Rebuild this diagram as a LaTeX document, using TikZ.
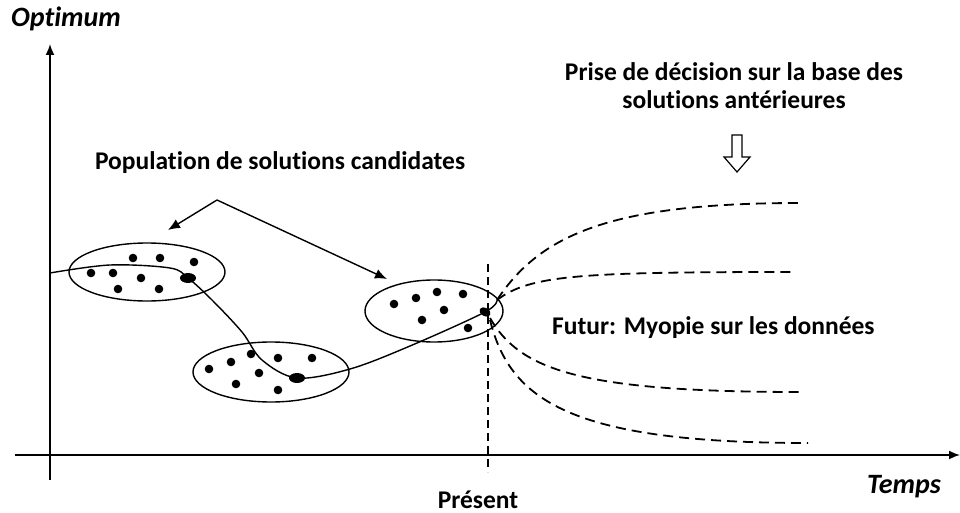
\documentclass[tikz,border=0pt]{standalone}
\usepackage{fontspec}
\setmainfont[Ligatures={NoCommon}]{Carlito}
\usetikzlibrary{arrows.meta}
\begin{document}
\begin{tikzpicture}[x=1pt,y=-1pt,
  lbl/.style={font=\fontsize{25.5}{28}\selectfont\bfseries, inner sep=0pt, align=center},
  axlbl/.style={font=\bfseries\itshape\fontsize{28}{30}\selectfont, inner sep=0pt},
  axis/.style={line width=1.7pt, -{Latex[length=11pt,width=9pt]}},
  grp/.style={draw, line width=1.4pt},
  pointer/.style={line width=1.4pt, -{Latex[length=12pt,width=10pt]}},
  fut/.style={line width=1.8pt, dash pattern=on 10pt off 6pt},
  traj/.style={line width=1.4pt}
]
\useasboundingbox (0,0) rectangle (960,513);
% axes
\coordinate (ybot) at (50,480);
\coordinate (ytop) at (50,44);
\coordinate (xl) at (15,455);
\coordinate (xr) at (960,455);
\draw[axis] (ybot) -- (ytop);
\draw[axis] (xl) -- (xr);
\node[axlbl, anchor=base west] (opt) at (11,27) {Optimum};
\node[axlbl, anchor=base west] (temps) at (867,493) {Temps};
\node[lbl, anchor=base] (present) at (478,508) {Présent};
% present line
\coordinate (pt) at (488,264);
\coordinate (pb) at (488,472);
\draw[line width=1.6pt, dash pattern=on 8pt off 5pt] (pt) -- (pb);
% ellipses
\draw[grp] (147,272) ellipse [x radius=78, y radius=29];
\draw[grp] (271,372) ellipse [x radius=78, y radius=30];
\draw[grp] (434,311) ellipse [x radius=69, y radius=31];
\coordinate (e1) at (168,230);
\coordinate (e3) at (387,279);
% dots
\foreach \p in {(133,258),(160,258),(194,262),(91,273),(113,273),(141,278),(118,289),(159,289),
  (209,369),(231,362),(251,354),(278,358),(312,358),(259,373),(236,384),(278,390),
  (394,304),(416,298),(437,292),(463,294),(444,310),(422,320),(468,328)}
  \fill \p circle[radius=4.3];
% trajectory
\coordinate (s0) at (50,273);
\coordinate (b1) at (188,278);
\coordinate (b2) at (297,378);
\coordinate (b3) at (485,312);
\coordinate (fan) at (497,300);
\draw[traj] plot[smooth, tension=0.55] coordinates {(50,273) (110,265) (170,268) (188,278) (212,300) (242,332) (262,360) (297,378) (350,369) (410,346) (485,312) (497,300)};
\fill (b1) ellipse [x radius=8, y radius=5];
\fill (b2) ellipse [x radius=8, y radius=5];
\fill[rotate around={-30:(b3)}] (b3) ellipse [x radius=6, y radius=4];
% future dashed curves
\coordinate (f1) at (800,203);
\coordinate (f2) at (792,272);
\coordinate (f3) at (802,392);
\coordinate (f4) at (808,443);
\draw[fut] (fan) .. controls (540,235) and (610,203) .. (f1);
\draw[fut] (fan) .. controls (530,275) and (580,272) .. (f2);
\draw[fut] (490,318) .. controls (520,370) and (580,392) .. (f3);
\draw[fut] (490,320) .. controls (510,400) and (570,443) .. (f4);
\node[lbl, anchor=west] (futur) at (552,328) {Futur: Myopie sur les données};
% decision text and hollow arrow
\node[lbl] (prise) at (734,86) {Prise de décision sur la base des\\solutions antérieures};
\draw[line width=1.2pt, fill=white] (732,135) -- (742,135) -- (742,157) -- (750,157) -- (737,172) -- (724,157) -- (732,157) -- cycle;
% population label and pointers
\node[lbl] (pop) at (280,163) {Population de solutions candidates};
\coordinate (apex) at (217,200);
\draw[pointer] (apex) -- (e1);
\draw[pointer] (apex) -- (e3);
\end{tikzpicture}
\end{document}
